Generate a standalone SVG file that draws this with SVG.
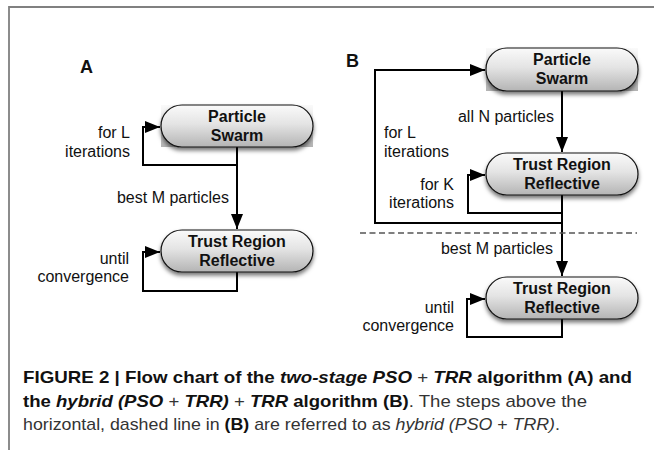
<svg xmlns="http://www.w3.org/2000/svg" width="654" height="450" viewBox="0 0 654 450">
<defs>
<linearGradient id="g" x1="0" y1="0" x2="0" y2="1">
<stop offset="0" stop-color="#fafafa"/>
<stop offset="0.45" stop-color="#e4e4e4"/>
<stop offset="1" stop-color="#b4b4b4"/>
</linearGradient>
<filter id="sh" x="-10%" y="-20%" width="120%" height="160%">
<feDropShadow dx="0" dy="3" stdDeviation="2.2" flood-color="#000" flood-opacity="0.55"/>
</filter>
<marker id="ah" markerUnits="userSpaceOnUse" markerWidth="16" markerHeight="12" refX="15" refY="6" orient="auto">
<path d="M0,0 L15,6 L0,12 z" fill="#000"/>
</marker>
</defs>
<style>
.pill{fill:url(#g);stroke:#111;stroke-width:1.2;filter:url(#sh)}
.bg{fill:url(#g)}
.nt{font-family:"Liberation Sans",Arial,sans-serif;font-size:16px;font-weight:bold;text-anchor:middle;fill:#111}
.lb{font-family:"Liberation Sans",Arial,sans-serif;font-size:16px;fill:#111}
.r{text-anchor:end}
.pn{fill:none;stroke:#000;stroke-width:2}
.ar{marker-end:url(#ah)}
.cap{font-family:"Liberation Sans",Arial,sans-serif;font-size:17px;fill:#333}
.b{font-weight:bold;fill:#111}
.i{font-style:italic}
.lbl-panel{font-family:"Liberation Sans",Arial,sans-serif;font-size:18px;font-weight:bold;fill:#111}
</style>
<rect width="654" height="450" fill="#fff"/>
<path d="M9,450 V7 H654" fill="none" stroke="#808080" stroke-width="1.8"/>

<text class="lbl-panel" x="80" y="73">A</text>
<text class="lbl-panel" x="346" y="67">B</text>

<g id="connectors">
<path class="pn ar" d="M237,147 V229"/>
<path class="pn ar" d="M237,165 H143 V127 H160"/>
<path class="pn ar" d="M237,272 V291 H143 V252 H160"/>
<path class="pn ar" d="M562,91 V152"/>
<path class="pn ar" d="M562,195 V276"/>
<path class="pn ar" d="M562,213 H468 V175 H485"/>
<path class="pn ar" d="M562,223 H375 V70 H485"/>
<path class="pn ar" d="M562,319 V337 H467 V299 H485"/>
<line x1="360" y1="233" x2="637" y2="233" stroke="#555" stroke-width="1.3" stroke-dasharray="6,3.5"/>
</g>

<g id="nodeA1">
<rect class="bg" x="161" y="105" width="152" height="42"/>
<rect class="pill" x="161" y="105" width="152" height="42" rx="21"/>
<text class="nt" x="237" y="122">Particle</text>
<text class="nt" x="237" y="141">Swarm</text>
</g>
<g id="nodeA2">
<rect class="pill" x="161" y="230" width="152" height="42" rx="21"/>
<text class="nt" x="237" y="247">Trust Region</text>
<text class="nt" x="237" y="266">Reflective</text>
</g>
<g id="nodeB1">
<rect class="bg" x="486" y="48" width="152" height="43"/>
<rect class="pill" x="486" y="48" width="152" height="43" rx="21"/>
<text class="nt" x="562" y="65">Particle</text>
<text class="nt" x="562" y="84">Swarm</text>
</g>
<g id="nodeB2">
<rect class="pill" x="486" y="153" width="152" height="42" rx="21"/>
<text class="nt" x="562" y="170">Trust Region</text>
<text class="nt" x="562" y="189">Reflective</text>
</g>
<g id="nodeB3">
<rect class="pill" x="486" y="277" width="152" height="42" rx="21"/>
<text class="nt" x="562" y="294">Trust Region</text>
<text class="nt" x="562" y="313">Reflective</text>
</g>

<g id="labels">
<text class="lb r" x="130" y="138">for L</text>
<text class="lb r" x="130" y="157">iterations</text>
<text class="lb r" x="229" y="203">best M particles</text>
<text class="lb r" x="129" y="264">until</text>
<text class="lb r" x="129" y="282">convergence</text>
<text class="lb r" x="554" y="122">all N particles</text>
<text class="lb" x="384" y="138">for L</text>
<text class="lb" x="384" y="157">iterations</text>
<text class="lb r" x="454" y="190">for K</text>
<text class="lb r" x="454" y="208">iterations</text>
<text class="lb r" x="553" y="254">best M particles</text>
<text class="lb r" x="454" y="313">until</text>
<text class="lb r" x="454" y="331">convergence</text>
</g>

<g id="caption">
<text class="cap" x="23" y="383" textLength="609" lengthAdjust="spacingAndGlyphs"><tspan class="b">FIGURE 2 | Flow chart of the </tspan><tspan class="b i">two-stage PSO</tspan> + <tspan class="b i">TRR</tspan><tspan class="b"> algorithm (A) and</tspan></text>
<text class="cap" x="23" y="407" textLength="564" lengthAdjust="spacingAndGlyphs"><tspan class="b">the </tspan><tspan class="b i">hybrid (PSO</tspan> + <tspan class="b i">TRR)</tspan> + <tspan class="b i">TRR</tspan><tspan class="b"> algorithm (B)</tspan>. The steps above the</text>
<text class="cap" x="23" y="430" textLength="537" lengthAdjust="spacingAndGlyphs">horizontal, dashed line in <tspan class="b">(B)</tspan> are referred to as <tspan class="i">hybrid (PSO</tspan> + <tspan class="i">TRR)</tspan>.</text>
</g>
</svg>
